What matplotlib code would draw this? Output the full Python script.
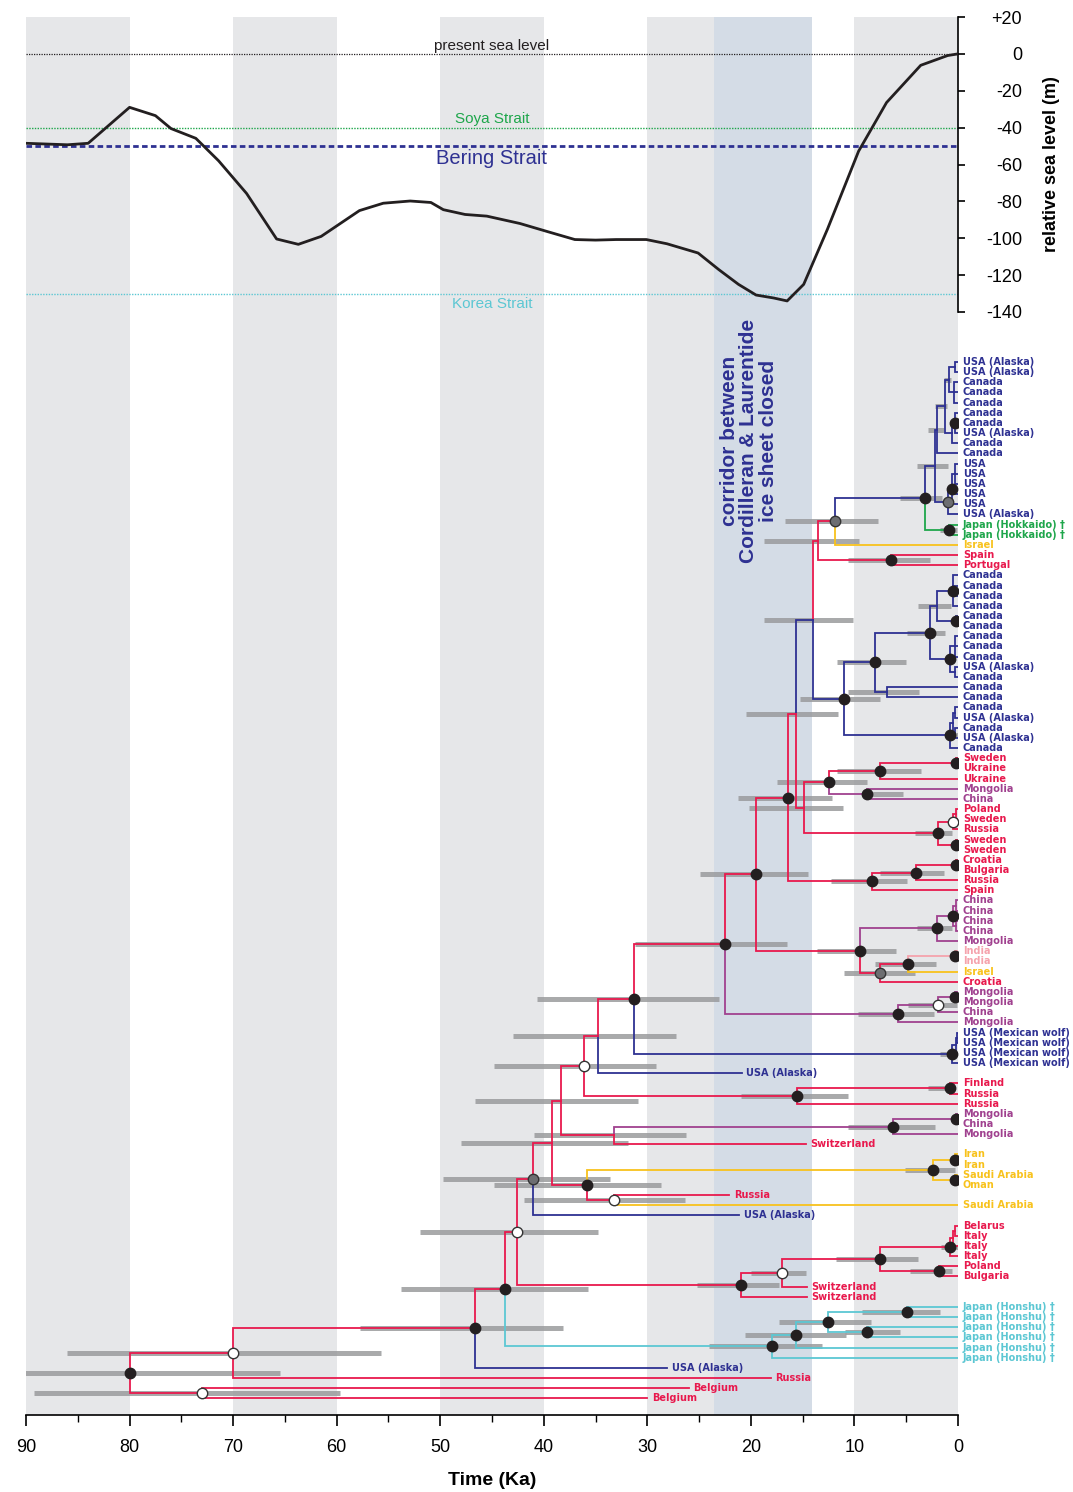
import matplotlib.pyplot as plt
from matplotlib.ticker import MultipleLocator

plt.rcParams['font.family'] = ['Liberation Sans', 'DejaVu Sans']

# ---------------- sea level curve ----------------
sea_ka = [90, 86, 84, 80, 77.5, 76, 73.6, 71.4, 68.7, 65.8, 63.7, 61.5, 57.8, 55.5, 52.9,
          50.9, 49.7, 47.6, 45.5, 42.3, 39.7, 37, 35, 33, 30.1, 28.1, 25.1, 23.1, 21.2, 19.5,
          17.8, 16.5, 14.9, 12.6, 9.6, 6.9, 3.6, 1, 0]
sea_m = [-48.5, -49.3, -48.5, -29, -33.5, -40.5, -45.8, -58, -75.7, -100.4, -103.3, -99, -85,
         -81, -79.8, -80.6, -84.5, -87.1, -88, -92, -96.3, -100.7, -101, -100.7, -100.7, -103,
         -108, -117, -125, -130.8, -132.4, -134, -125, -95, -52.8, -26.4, -6.2, -0.9, 0]

strait_names = ['present sea level', 'Soya Strait', 'Bering Strait', 'Korea Strait']
strait_depth = [0, -40, -50, -130]

grey_bands = [(90, 80), (70, 60), (50, 40), (30, 20), (10, 0)]
corridor = (23.6, 14.1)

# ---------------- tree: tips (top to bottom) ----------------
leaf_labels = [
    'USA (Alaska)', 'USA (Alaska)', 'Canada', 'Canada', 'Canada', 'Canada', 'Canada',
    'USA (Alaska)', 'Canada', 'Canada', 'USA', 'USA', 'USA', 'USA', 'USA', 'USA (Alaska)',
    'Japan (Hokkaido) †', 'Japan (Hokkaido) †', 'Israel', 'Spain', 'Portugal',
    'Canada', 'Canada', 'Canada', 'Canada', 'Canada', 'Canada', 'Canada', 'Canada', 'Canada',
    'USA (Alaska)', 'Canada', 'Canada', 'Canada', 'Canada', 'USA (Alaska)', 'Canada',
    'USA (Alaska)', 'Canada', 'Sweden', 'Ukraine', 'Ukraine', 'Mongolia', 'China', 'Poland',
    'Sweden', 'Russia', 'Sweden', 'Sweden', 'Croatia', 'Bulgaria', 'Russia', 'Spain',
    'China', 'China', 'China', 'China', 'Mongolia', 'India', 'India', 'Israel', 'Croatia',
    'Mongolia', 'Mongolia', 'China', 'Mongolia', 'USA (Mexican wolf)', 'USA (Mexican wolf)',
    'USA (Mexican wolf)', 'USA (Mexican wolf)', 'USA (Alaska)', 'Finland', 'Russia', 'Russia',
    'Mongolia', 'China', 'Mongolia', 'Switzerland', 'Iran', 'Iran', 'Saudi Arabia', 'Oman',
    'Russia', 'Saudi Arabia', 'USA (Alaska)', 'Belarus', 'Italy', 'Italy', 'Italy', 'Poland',
    'Bulgaria', 'Switzerland', 'Switzerland', 'Japan (Honshu) †', 'Japan (Honshu) †',
    'Japan (Honshu) †', 'Japan (Honshu) †', 'Japan (Honshu) †', 'Japan (Honshu) †',
    'USA (Alaska)', 'Russia', 'Belgium', 'Belgium']

# ancient samples (tip age in Ka); all other tips are modern (0 Ka)
ancient_tip = [70, 77, 82, 84, 91, 92, 99, 100, 101, 102]
ancient_age = [20.9, 14.7, 22.1, 21.1, 14.6, 14.6, 28.1, 18.1, 26.0, 30.0]

region_of = {'USA (Alaska)': 'NA', 'Canada': 'NA', 'USA': 'NA', 'USA (Mexican wolf)': 'NA',
             'Japan (Hokkaido) †': 'HK', 'Japan (Honshu) †': 'HO', 'Mongolia': 'EA',
             'China': 'EA', 'India': 'IN', 'Israel': 'ME', 'Iran': 'ME',
             'Saudi Arabia': 'ME', 'Oman': 'ME'}
region_override = {'n925': 'NA', 'n813': 'NA'}
colors = {'EU': '#e8194d', 'NA': '#2e3192', 'EA': '#a0418f', 'ME': '#f8c21c',
          'HO': '#5cc7d3', 'HK': '#1ea64b', 'IN': '#f5a3ad'}

# ---------------- tree: internal nodes ----------------
node_kids = {
    'a4': [0, 1], 'a5': [2, 3, 4], 'a2': ['a4', 'a5'], 'a3': [5, 6, 7], 'a6': ['a3', 8],
    'a1': ['a2', 'a6'], 'a0': ['a1', 9], 'b3': [10, 11, 12], 'b2': ['b3', 13, 14],
    'b1': ['b2', 15], 'n935': ['a0', 'b1'], 'hok': [16, 17], 'n925': ['n935', 'hok'],
    'n835': ['n925', 18], 'n891': [19, 20], 'n818': ['n835', 'n891'],
    'c1': [21, 22, 23, 24], 'c2': [25, 26], 'n937': ['c1', 'c2'], 'c3': [27, 28, 29],
    'c4': [30, 31], 'n950b': ['c3', 'c4'], 'n930': ['n937', 'n950b'], 'n887': [32, 33],
    'n875': ['n930', 'n887'], 'c5': [34, 35], 'c6': [36, 37], 'c7': ['c5', 'c6'],
    'n950': ['c7', 38], 'n844': ['n875', 'n950'], 'n813': ['n818', 'n844'],
    'd1': [39, 40], 'n880': ['d1', 41], 'n868': [42, 43], 'n828': ['n880', 'n868'],
    'd2': [44, 45], 'dw': ['d2', 46], 'd3': [47, 48], 'n938': ['dw', 'd3'],
    'n804': ['n828', 'n938'], 'n796': ['n813', 'n804'], 'd4': [49, 50], 'n915': ['d4', 51],
    'n872': ['n915', 52], 'n788': ['n796', 'n872'],
    'e1': [53, 54], 'e2': [55, 56], 'e3': ['e1', 'e2'], 'n937c': ['e3', 57], 'e4': [58, 59],
    'n908': ['e4', 60], 'n880g': ['n908', 61], 'n860': ['n937c', 'n880g'],
    'n756': ['n788', 'n860'], 'e5': [62, 63], 'n938w': ['e5', 64], 'n898': ['n938w', 65],
    'n725': ['n756', 'n898'], 'm1': [66, 67], 'm2': ['m1', 68], 'mex': ['m2', 69],
    'n634': ['n725', 'mex'], 'n598': ['n634', 70], 'f1': [71, 72], 'n798': ['f1', 73],
    'n584': ['n598', 'n798'], 'g1': [74, 75], 'n893': ['g1', 76], 'n614': ['n893', 77],
    'n561': ['n584', 'n614'], 'h1': [78, 79], 'h2': [80, 81], 'n933': ['h1', 'h2'],
    'n614b': [82, 83], 'n586': ['n933', 'n614b'], 'n552': ['n561', 'n586'],
    'n534': ['n552', 84], 'i1': [85, 86], 'i2': ['i1', 87], 'n950i': ['i2', 88],
    'n939': [89, 90], 'n880b': ['n950i', 'n939'], 'n783': ['n880b', 91],
    'n740': ['n783', 92], 'n517': ['n534', 'n740'], 'j1': [93, 94], 'j2': [95, 96],
    'j3': ['j1', 'j2'], 'j4': ['j3', 97], 'j5': ['j4', 98], 'n505': ['n517', 'j5'],
    'n475': ['n505', 99], 'n233': ['n475', 100], 'n201': [101, 102], 'root': ['n233', 'n201'],
}

node_age = {
    'a4': 0.3, 'a5': 0.4, 'a2': 0.9, 'a3': 0.3, 'a6': 0.6, 'a1': 1.3, 'a0': 2.0, 'b3': 0.3,
    'b2': 0.6, 'b1': 1.0, 'n935': 2.2, 'hok': 0.9, 'n925': 3.2, 'n835': 11.9, 'n891': 6.5,
    'n818': 13.5, 'c1': 0.5, 'c2': 0.2, 'n937': 2.0, 'c3': 0.3, 'c4': 0.3, 'n950b': 0.8,
    'n930': 2.7, 'n887': 6.9, 'n875': 8.0, 'c5': 0.3, 'c6': 0.3, 'c7': 0.5, 'n950': 0.8,
    'n844': 11.0, 'n813': 14.0, 'd1': 0.2, 'n880': 7.5, 'n868': 8.8, 'n828': 12.5,
    'd2': 0.2, 'dw': 0.5, 'd3': 0.2, 'n938': 1.9, 'n804': 14.9, 'n796': 15.6, 'd4': 0.2,
    'n915': 4.1, 'n872': 8.3, 'n788': 16.4, 'e1': 0.2, 'e2': 0.2, 'e3': 0.5, 'n937c': 2.0,
    'e4': 0.3, 'n908': 4.8, 'n880g': 7.5, 'n860': 9.5, 'n756': 19.5, 'e5': 0.3,
    'n938w': 1.9, 'n898': 5.8, 'n725': 22.5, 'm1': 0.1, 'm2': 0.2, 'mex': 0.6,
    'n634': 31.3, 'n598': 34.8, 'f1': 0.8, 'n798': 15.5, 'n584': 36.1, 'g1': 0.2,
    'n893': 6.3, 'n614': 33.2, 'n561': 38.3, 'h1': 0.3, 'h2': 0.3, 'n933': 2.4,
    'n614b': 33.2, 'n586': 35.8, 'n552': 39.2, 'n534': 41.0, 'i1': 0.3, 'i2': 0.5,
    'n950i': 0.8, 'n939': 1.8, 'n880b': 7.5, 'n783': 17.0, 'n740': 21.0, 'n517': 42.6,
    'j1': 4.9, 'j2': 8.8, 'j3': 12.6, 'j4': 15.6, 'j5': 18.0, 'n505': 43.7, 'n475': 46.6,
    'n233': 70.0, 'n201': 73.0, 'root': 80.0,
}

# 95% HPD intervals (older, younger) in Ka
node_hpd = {
    'a0': (2.9, 1.4), 'a1': (2.2, 1.1), 'a2': (1.4, 0.7), 'n935': (4.0, 1.0),
    'hok': (1.7, 0.1), 'n925': (5.6, 1.5), 'n835': (16.7, 7.7), 'n891': (10.6, 2.7),
    'n818': (18.7, 9.6), 'n937': (3.9, 0.7), 'n930': (4.9, 1.3), 'n887': (10.6, 3.8),
    'n875': (11.7, 5.0), 'n950': (1.3, 0.0), 'n844': (15.3, 7.5), 'n813': (18.7, 10.1),
    'n880': (11.7, 3.6), 'n868': (9.2, 5.3), 'n828': (17.5, 8.8), 'n938': (4.2, 0.6),
    'n804': (20.2, 11.1), 'n796': (20.5, 11.6), 'n915': (7.5, 1.4), 'n872': (12.3, 4.9),
    'n788': (21.2, 12.2), 'n937c': (4.0, 0.6), 'n908': (8.0, 2.1), 'n880g': (11.0, 4.2),
    'n860': (13.6, 6.0), 'n756': (24.9, 14.5), 'n938w': (4.8, 0.1), 'n898': (9.7, 2.3),
    'n725': (31.2, 16.5), 'mex': (1.7, 0.1), 'n634': (40.7, 23.1), 'n598': (43.0, 27.2),
    'f1': (2.9, 0.8), 'n798': (21.0, 10.6), 'n584': (44.8, 29.2), 'n893': (10.6, 2.2),
    'n614': (40.9, 26.3), 'n561': (46.6, 30.9), 'n933': (5.1, 0.3), 'n614b': (41.9, 26.4),
    'n586': (44.8, 28.7), 'n552': (48.0, 31.9), 'n534': (49.7, 33.6), 'n950i': (1.6, 0.0),
    'n939': (4.6, 0.6), 'n880b': (11.8, 3.9), 'n783': (20.0, 14.7), 'n740': (25.2, 17.3),
    'n517': (52.0, 34.8), 'j1': (9.3, 1.7), 'j2': (10.9, 5.6), 'j3': (17.3, 8.4),
    'j4': (20.6, 10.8), 'j5': (24.0, 13.1), 'n505': (53.8, 35.7), 'n475': (57.7, 38.1),
    'n233': (86.0, 55.7), 'n201': (89.2, 59.7), 'root': (91.5, 65.5),
}

# node support markers: k = black, g = grey, w = white
node_mark = {
    'a3': 'k', 'b2': 'k', 'b1': 'g', 'hok': 'k', 'n925': 'k', 'n835': 'g', 'n891': 'k',
    'c1': 'k', 'c2': 'k', 'n950b': 'k', 'n930': 'k', 'n875': 'k', 'n950': 'k', 'n844': 'k',
    'd1': 'k', 'n880': 'k', 'n868': 'k', 'n828': 'k', 'dw': 'w', 'd3': 'k', 'n938': 'k',
    'd4': 'k', 'n915': 'k', 'n872': 'k', 'n788': 'k', 'e3': 'k', 'n937c': 'k', 'e4': 'k',
    'n908': 'k', 'n880g': 'g', 'n860': 'k', 'n756': 'k', 'e5': 'k', 'n938w': 'w',
    'n898': 'k', 'n725': 'k', 'mex': 'k', 'n634': 'k', 'f1': 'k', 'n798': 'k', 'n584': 'w',
    'g1': 'k', 'n893': 'k', 'h1': 'k', 'h2': 'k', 'n933': 'k', 'n614b': 'w', 'n586': 'k',
    'n534': 'g', 'n950i': 'k', 'n939': 'k', 'n880b': 'k', 'n783': 'w', 'n740': 'k',
    'n517': 'w', 'j1': 'k', 'j2': 'k', 'j3': 'k', 'j4': 'k', 'j5': 'k', 'n505': 'k',
    'n475': 'k', 'n233': 'w', 'n201': 'w', 'root': 'k',
}

# ---------------- helpers ----------------
tip_age = {i: a for i, a in zip(ancient_tip, ancient_age)}


def age(n):
    if isinstance(n, int):
        return tip_age.get(n, 0.0)
    return node_age[n]


ypos = {}


def get_y(n):
    if isinstance(n, int):
        return float(n)
    if n not in ypos:
        ys = [get_y(c) for c in node_kids[n]]
        ypos[n] = (min(ys) + max(ys)) / 2
    return ypos[n]


def leaves_of(n):
    if isinstance(n, int):
        return [n]
    out = []
    for c in node_kids[n]:
        out += leaves_of(c)
    return out


def region(n):
    if isinstance(n, int):
        return region_of.get(leaf_labels[n], 'EU')
    if n in region_override:
        return region_override[n]
    regs = {region(l) for l in leaves_of(n)}
    return regs.pop() if len(regs) == 1 else 'EU'


# ---------------- figure ----------------
W, H = 1073, 1492
fig = plt.figure(figsize=(W / 100, H / 100), dpi=100)
x0, x1 = 26 / W, 958 / W
navy = '#2e3192'

# tree axes (full height, carries the background bands)
ax = fig.add_axes([x0, 1 - 1415 / H, x1 - x0, (1415 - 17) / H])
ax.set_xlim(90, 0)
ax.set_ylim((1415 - 362) / 10.16, (17 - 362) / 10.16)

for a, b in grey_bands:
    ax.axvspan(a, b, color='#e6e7e9', lw=0, zorder=0)
ax.axvspan(corridor[0], corridor[1], color='#d4dce6', lw=0, zorder=0.5)

for n, (lo, hi) in node_hpd.items():
    y = get_y(n)
    ax.plot([lo, hi], [y, y], color='#9a9b9d', lw=3.6, alpha=0.85,
            solid_capstyle='butt', zorder=2)

for p, kids in node_kids.items():
    xp, yp = age(p), get_y(p)
    for c in kids:
        yc = get_y(c)
        ax.plot([xp, xp, age(c)], [yp, yc, yc], color=colors[region(c)], lw=1.3,
                solid_joinstyle='miter', zorder=3)

mark_style = {'k': ('#231f20', '#231f20'), 'g': ('#6d6e71', '#333333'),
              'w': ('white', '#333333')}
for n, m in node_mark.items():
    fc, ec = mark_style[m]
    ax.plot(age(n), get_y(n), 'o', ms=7.5, mfc=fc, mec=ec, mew=1.0, zorder=5)

for i, lab in enumerate(leaf_labels):
    ax.annotate(lab, (age(i), i), xytext=(3.5, 0), textcoords='offset points',
                ha='left', va='center', fontsize=7.0, fontweight='bold',
                family=['DejaVu Sans'], color=colors[region(i)],
                annotation_clip=False, zorder=6)

ax.text(20.2, 7.8, 'corridor between\nCordilleran & Laurentide\nice sheet closed',
        rotation=90, ha='center', va='center', multialignment='center',
        fontsize=15, fontweight='bold', color=navy, linespacing=1.02, zorder=4)

for s in ['left', 'top', 'right']:
    ax.spines[s].set_visible(False)
ax.spines['bottom'].set_linewidth(1.2)
ax.set_yticks([])
ax.xaxis.set_major_locator(MultipleLocator(10))
ax.xaxis.set_minor_locator(MultipleLocator(5))
ax.tick_params(axis='x', which='major', length=8, width=1.2, labelsize=13, pad=9)
ax.tick_params(axis='x', which='minor', length=5, width=1.0)
ax.set_xlabel('Time (Ka)', fontsize=14, fontweight='bold', labelpad=12)

# sea level axes (overlay on top part)
ax2 = fig.add_axes([x0, 1 - 312 / H, x1 - x0, (312 - 17) / H])
ax2.patch.set_alpha(0)
ax2.set_xlim(90, 0)
ax2.set_ylim(-140, 20)

strait_style = [('#231f20', (0, (1, 1)), 0.9), ('#1ea64b', (0, (1, 1)), 1.0),
                (navy, (0, (2, 1.2)), 2.0), ('#5cc7d3', (0, (1, 1)), 1.0)]
for (col, ls, lw), d in zip(strait_style, strait_depth):
    ax2.axhline(d, color=col, ls=ls, lw=lw, zorder=2)

ax2.text(45, 0.6, strait_names[0], ha='center', va='bottom', fontsize=11, color='#231f20')
ax2.text(45, -39.3, strait_names[1], ha='center', va='bottom', fontsize=11, color='#1ea64b')
ax2.text(45, -51.5, strait_names[2], ha='center', va='top', fontsize=14.5, color=navy)
ax2.text(45, -132, strait_names[3], ha='center', va='top', fontsize=11, color='#5cc7d3')

ax2.plot(sea_ka, sea_m, color='#231f20', lw=2, zorder=3)

for s in ['left', 'top', 'bottom']:
    ax2.spines[s].set_visible(False)
ax2.spines['right'].set_linewidth(1.2)
ax2.set_xticks([])
ticks = list(range(20, -141, -20))
ax2.yaxis.tick_right()
ax2.set_yticks(ticks)
ax2.set_yticklabels(['+%d' % t if t > 0 else str(t) for t in ticks])
ax2.tick_params(axis='y', length=5, width=1.2, labelsize=13, pad=41)
for t in ax2.get_yticklabels():
    t.set_horizontalalignment('right')

fig.text(1052 / W, 1 - 164 / H, 'relative sea level (m)', rotation=90, ha='center',
         va='center', fontsize=13, fontweight='bold')

fig.savefig('out.png', dpi=100)
